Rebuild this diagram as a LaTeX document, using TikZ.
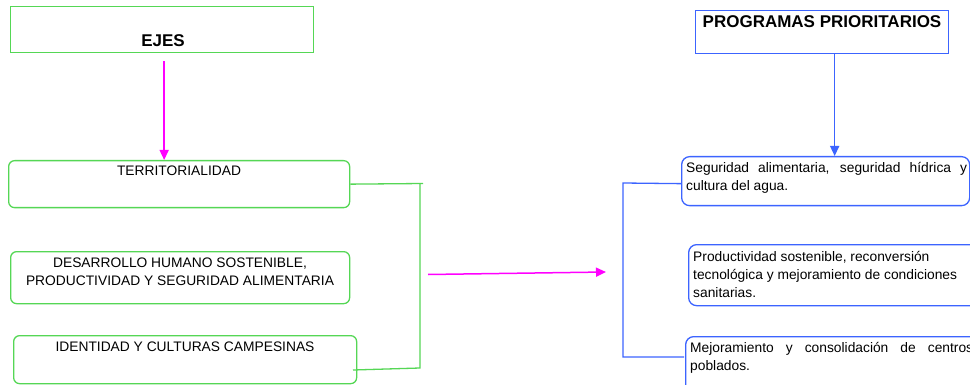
\documentclass[tikz,border=0pt]{standalone}
\usepackage{fontspec}
\setmainfont{Liberation Sans}
\usetikzlibrary{arrows.meta}
\definecolor{eg}{RGB}{85,215,85}
\definecolor{mg}{RGB}{255,0,255}
\definecolor{bl}{RGB}{60,100,255}
\tikzset{
  gbox/.style={draw=eg, line width=1.3pt, anchor=north west, inner sep=0pt},
  gline/.style={draw=eg, line width=1.3pt},
  bbox/.style={draw=bl, line width=1.3pt, anchor=north west, inner sep=0pt},
  bline/.style={draw=bl, line width=1.3pt},
  marrow/.style={draw=mg, line width=1.5pt, -{Triangle[length=10pt,width=9pt]}},
  barrow/.style={draw=bl, line width=1.5pt, -{Triangle[length=10pt,width=9pt]}},
  txt/.style={inner sep=0pt, font=\fontsize{13.8}{18}\selectfont},
  hdr/.style={inner sep=0pt, font=\fontsize{17}{20}\selectfont\bfseries, anchor=base},
}
\begin{document}
\begin{tikzpicture}[x=1pt,y=-1pt]
\clip (0,0) rectangle (970,385);
\fill[white] (0,0) rectangle (970,385);
% left header
\node[gbox, minimum width=303pt, minimum height=46pt] (ejes) at (10,6) {};
\node[hdr] (ejesT) at (163,47) {EJES};
% right header
\node[bbox, minimum width=253pt, minimum height=43pt] (prog) at (695,10) {};
\node[hdr] (progT) at (822,28) {PROGRAMAS PRIORITARIOS};
% left boxes
\node[gbox, rounded corners=6pt, minimum width=341pt, minimum height=47pt] (terr) at (8,160) {};
\node[txt, anchor=base] (terrT) at (179,176) {TERRITORIALIDAD};
\node[gbox, rounded corners=6pt, minimum width=339pt, minimum height=52pt] (desa) at (10,251) {};
\node[txt, anchor=base] (desaT) at (180,267) {\parbox[t]{340pt}{\centering DESARROLLO HUMANO SOSTENIBLE,\\PRODUCTIVIDAD Y SEGURIDAD ALIMENTARIA}};
\node[gbox, rounded corners=6pt, minimum width=343pt, minimum height=48pt] (iden) at (13,335) {};
\node[txt, anchor=base] (idenT) at (185,351) {IDENTIDAD Y CULTURAS CAMPESINAS};
% right boxes
\node[bbox, rounded corners=8pt, minimum width=288pt, minimum height=49pt] (segu) at (681,156) {};
\node[txt, anchor=base west] (seguT) at (686,172.7) {\parbox[t]{281pt}{\makebox[281pt][s]{Seguridad alimentaria, seguridad hídrica y}\\cultura del agua.}};
\node[bbox, rounded corners=8pt, minimum width=320pt, minimum height=61pt] (prod) at (688,244) {};
\node[txt, anchor=base west] (prodT) at (693,261) {\parbox[t]{280pt}{Productividad sostenible, reconversión\\tecnológica y mejoramiento de condiciones\\sanitarias.}};
\node[bbox, rounded corners=8pt, minimum width=320pt, minimum height=60pt] (mejo) at (685,336) {};
\node[txt, anchor=base west] (mejoT) at (690,352.3) {\parbox[t]{283pt}{\makebox[283pt][s]{Mejoramiento y consolidación de centros}\\poblados.}};
% connector coordinates
\coordinate (gtop) at (423,183.5);
\coordinate (gv1) at (420,183.5);
\coordinate (gv2) at (420,368);
\coordinate (gb) at (353,370);
\coordinate (m1) at (428,274.5);
\coordinate (m2) at (606,272);
\coordinate (bk1) at (623,183);
\coordinate (bk2) at (623,357);
\coordinate (bk3) at (684,357);
% connectors
\draw[marrow] ([yshift=-8pt,xshift=2pt]ejes.south) -- ([xshift=2pt]ejes.south |- terr.north);
\draw[barrow] ([xshift=12.5pt]prog.south) -- ([xshift=12.5pt]prog.south |- segu.north);
\draw[gline] (terr.east) -- (gtop);
\draw[gline] (gv1) -- (gv2) -- (gb);
\draw[marrow] (m1) -- (m2);
\draw[bline] ([yshift=-2.5pt]segu.west) -- (bk1) -- (bk2) -- (bk3);
\end{tikzpicture}
\end{document}
